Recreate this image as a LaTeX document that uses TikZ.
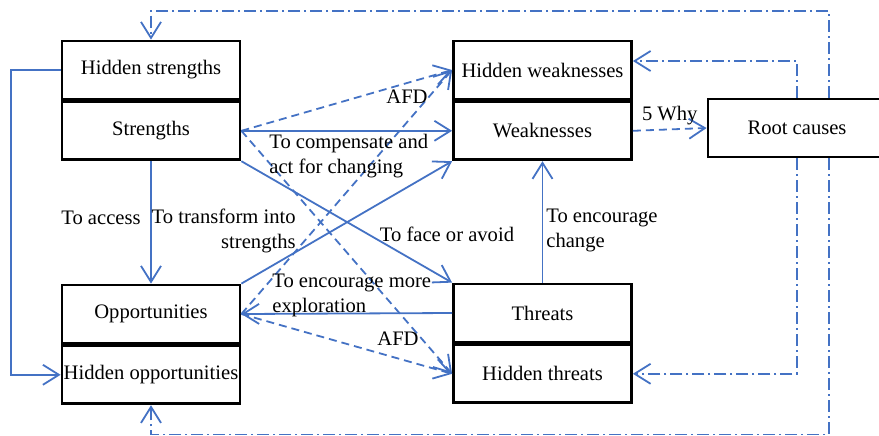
\documentclass[tikz,border=0pt]{standalone}
\usepackage{fontspec}
\setmainfont{Liberation Serif}
\usetikzlibrary{arrows.meta,positioning}
\definecolor{linkblue}{RGB}{68,114,196}
\tikzstyle{box}=[draw,line width=1.4pt,minimum width=89pt,minimum height=29pt,inner sep=0pt,font=\fontsize{10.3}{12.5}\selectfont]
\tikzstyle{link}=[draw,linkblue,line width=0.9pt,-{Straight Barb[length=8pt,width=10pt]}]
\tikzstyle{afd}=[link,dash pattern=on 4pt off 2.5pt]
\tikzstyle{root}=[link,dash pattern=on 6pt off 2pt on 1pt off 2pt]
\tikzstyle{note}=[font=\fontsize{10.3}{12.5}\selectfont,text=black,inner sep=0pt]

\begin{document}
\begin{tikzpicture}[x=0.5pt,y=-0.5pt]
    \useasboundingbox (0,0) rectangle (879,435);
    \clip (0,0) rectangle (879,435);
    \foreach \pos/\name/\boxtext in {{(151,70)/hs/Hidden strengths}, {(542.5,70)/hw/Hidden weaknesses}, {(151,314)/op/Opportunities}, {(542.5,313)/th/Threats}, {(797,128)/rc/Root causes}}
        \node[box] (\name) at \pos {\boxtext};
    \node[box,below=0pt of hs] (st) {Strengths};
    \node[box,below=0pt of hw] (wk) {Weaknesses};
    \node[box,below=0pt of op] (ho) {Hidden opportunities};
    \node[box,below=0pt of th] (ht) {Hidden threats};
    \path[link] (hs.west) -- ++(-50,0) |- (ho.west);
    \foreach \source/\dest in {st.east/wk.west, st.south/op.north, st.south east/th.north west, op.north east/wk.south west, th.west/op.east, th.north/wk.south}
        \path[link] (\source) -- (\dest);
    \foreach \source/\dest in {st.east/hw.west, st.east/ht.west, op.east/hw.west, op.east/ht.west}
        \path[afd] (\source) -- (\dest);
    \path[afd] (wk.east) -- node[note,above=2pt] (why) {5 Why} (rc.west);
    \path[root] (rc.north) |- ([yshift=4.5pt]hw.east);
    \path[root] ([xshift=16pt]rc.north) -- ++(0,-87) -| (hs.north);
    \path[root] (rc.south) |- (ht.east);
    \path[root] ([xshift=16pt]rc.south) -- ++(0,276) -| (ho.south);
    \node[note] (access) at (101,218) {To access};
    \node[note,anchor=east,align=right] (transform) at (296,230.5) {To transform into\\strengths};
    \node[note,anchor=west,align=left] (compensate) at (269,156) {To compensate and\\act for changing};
    \node[note] (afdup) at (407,97) {AFD};
    \node[note] (face) at (447,234) {To face or avoid};
    \node[note,anchor=west,align=left] (explore) at (272,295) {To encourage more\\exploration};
    \node[note] (afddown) at (398,339) {AFD};
    \node[note,anchor=west,align=left] (change) at (546,230) {To encourage\\change};
\end{tikzpicture}
\end{document}
